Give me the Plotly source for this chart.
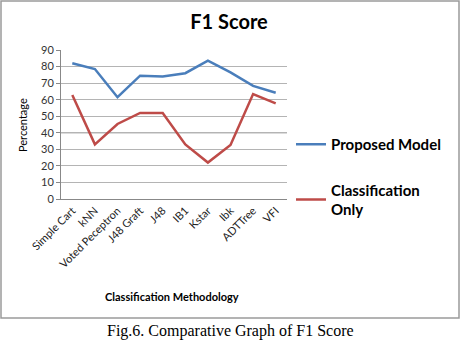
import plotly.graph_objects as go

categories = ["Simple Cart", "kNN", "Voted Peceptron", "J48 Graft", "J48", "IB1", "Kstar", "Ibk", "ADTTree", "VFI"]
proposed = [82, 78.5, 61.5, 74.5, 74, 76, 83.5, 76.5, 68.3, 64.2]
classification_only = [62.8, 33, 45.3, 52, 52, 33, 22, 32.6, 63.4, 57.7]
y_ticks = [0, 10, 20, 30, 40, 50, 60, 70, 80, 90]

W, H = 461, 347
L, R, T, B = 61, 174, 50, 148
pw, ph = W - L - R, H - T - B

def px(x):
    return (x - L) / pw

def py(y):
    return (H - B - y) / ph

fig = go.Figure()
fig.add_trace(go.Scatter(x=categories, y=proposed, mode="lines", name="<b>Proposed Model</b>",
                         line=dict(color="#4a7ebb", width=2.5), legendgroup="a"))
fig.add_trace(go.Scatter(x=categories, y=classification_only, mode="lines", name="<b>Classification<br>Only</b>",
                         line=dict(color="#be4b48", width=2.5), legendgroup="b"))

fig.update_layout(
    width=W, height=H,
    margin=dict(l=L, r=R, t=T, b=B),
    paper_bgcolor="white", plot_bgcolor="white",
    title=dict(text="<b>F1 Score</b>", xref="container", x=229 / W, xanchor="center",
               yref="container", y=1 - 22 / H, yanchor="middle",
               font=dict(family="Lato", size=20, color="black")),
    font=dict(family="Lato", color="#222"),
    xaxis=dict(type="category", range=[-0.5, 9.5], tickangle=-45, automargin=False,
               tickfont=dict(size=11, color="#222"), showgrid=False,
               showline=True, linecolor="#888", linewidth=1, ticks=""),
    yaxis=dict(range=[0, 90], tickvals=y_ticks, tickfont=dict(size=11, color="#333"),
               automargin=False,
               showgrid=True, gridcolor="#b4b4b4", gridwidth=1, zeroline=False,
               showline=True, linecolor="#888", ticks="outside", ticklen=4, tickcolor="#888"),
    legend=dict(x=px(291), y=py(128), xanchor="left", yanchor="top",
                font=dict(family="Lato", size=15, color="black"),
                traceorder="grouped", tracegroupgap=23, itemwidth=30,
                bgcolor="rgba(0,0,0,0)"),
    showlegend=True,
)

# darker 40 gridline
fig.add_shape(type="line", xref="paper", yref="y", x0=0, x1=1, y0=40, y1=40,
              line=dict(color="#7a7a7a", width=1), layer="below")

# outer frame
fig.add_shape(type="rect", xref="paper", yref="paper",
              x0=px(1), x1=px(459), y0=py(318), y1=py(1),
              line=dict(color="#9a9a9a", width=1.5), fillcolor="rgba(0,0,0,0)")

fig.add_annotation(text="<b>Classification Methodology</b>", xref="paper", yref="paper",
                   x=px(172), y=py(296), showarrow=False, xanchor="center", yanchor="middle",
                   font=dict(family="Lato", size=11, color="black"))
fig.add_annotation(text="Percentage", xref="paper", yref="paper", textangle=-90,
                   x=px(22), y=py(125), showarrow=False, xanchor="center", yanchor="middle",
                   font=dict(family="Lato", size=11, color="black"))
fig.add_annotation(text="Fig.6. Comparative Graph of F1 Score", xref="paper", yref="paper",
                   x=px(230), y=py(331), showarrow=False, xanchor="center", yanchor="middle",
                   font=dict(family="Liberation Serif", size=16, color="black"))

fig.write_html("out.html", config={"displayModeBar": False},
               post_script="document.body.style.margin='0';")
